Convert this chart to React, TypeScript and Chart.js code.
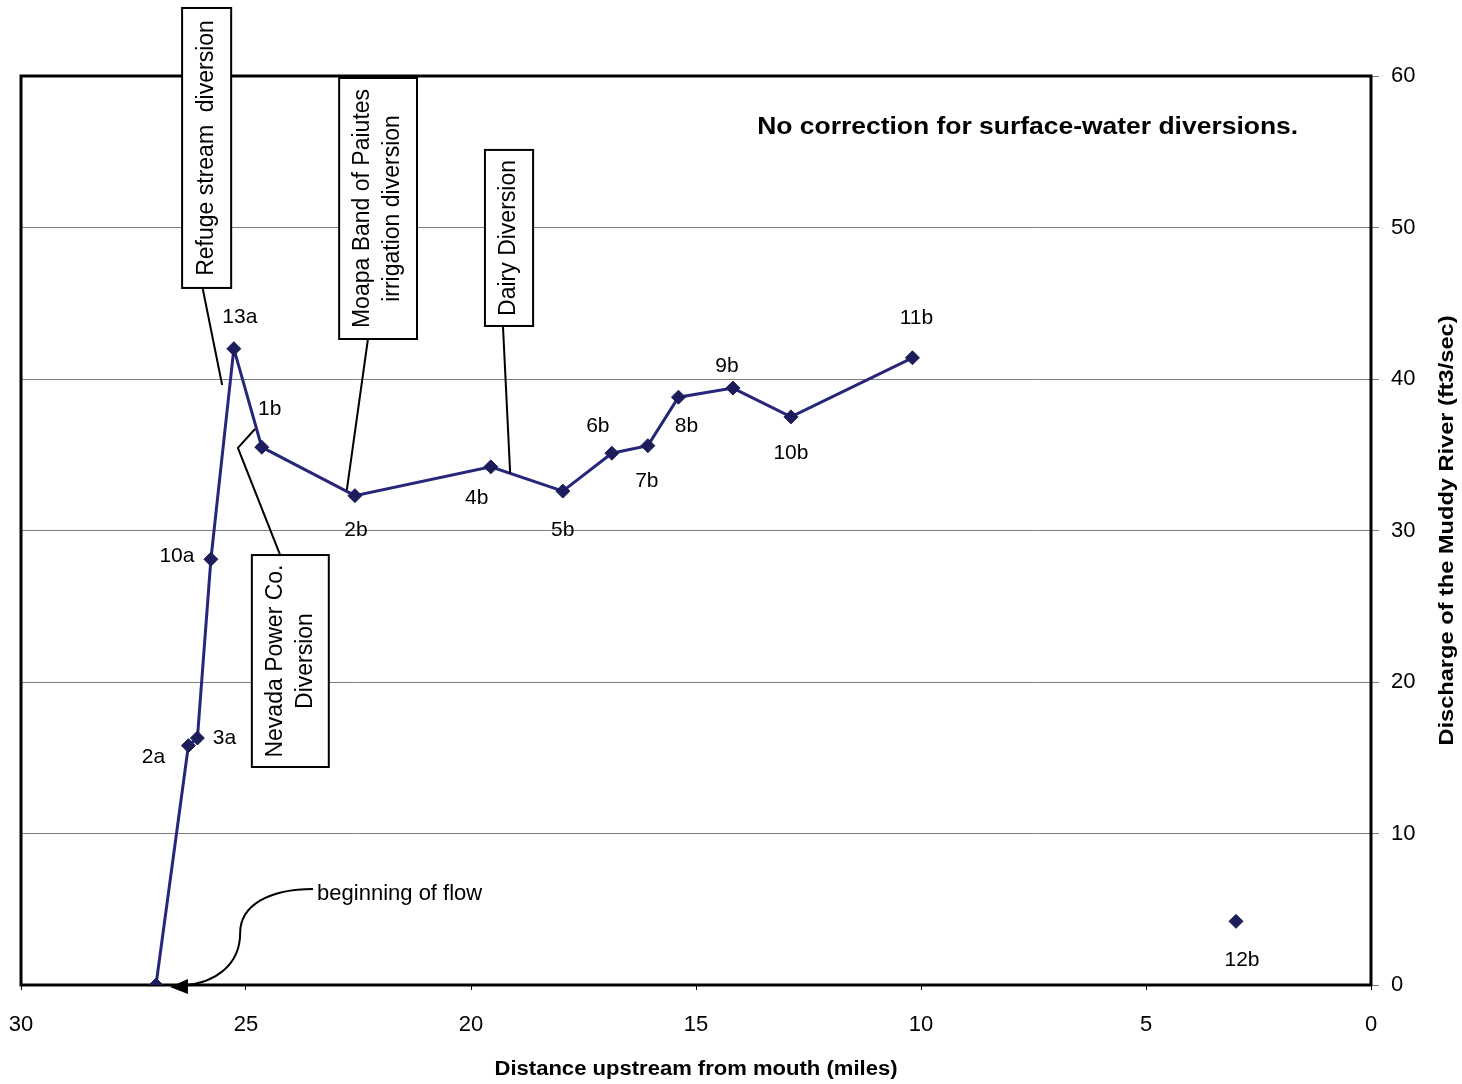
import React, { useEffect, useRef } from "react";
import { Chart, registerables } from "chart.js";

Chart.register(...registerables);

// ---- Data ----
const siteLabels = ["", "2a", "3a", "10a", "13a", "1b", "2b", "4b", "5b", "6b", "7b", "8b", "9b", "10b", "11b"];
const distanceMiles = [27.0, 26.28, 26.08, 25.78, 25.27, 24.65, 22.58, 19.56, 17.96, 16.87, 16.07, 15.39, 14.18, 12.89, 10.19];
const dischargeCfs = [0, 15.8, 16.3, 28.1, 42.0, 35.5, 32.3, 34.2, 32.6, 35.1, 35.6, 38.8, 39.4, 37.5, 41.4];

const isolatedLabels = ["12b"];
const isolatedDistance = [3.0];
const isolatedDischarge = [4.2];

const xMin = 0;
const xMax = 30;
const xStep = 5;
const yMin = 0;
const yMax = 60;
const yStep = 10;

const xTitle = "Distance upstream from mouth (miles)";
const yTitle = "Discharge of the Muddy River (ft3/sec)";
const noteText = "No correction for surface-water diversions.";
const flowText = "beginning of flow";

// label offsets in pixels (style, not data)
const mainLabelOffsets: [number, number][] = [
  [0, 0], [-35, 12], [27, 0], [-34, -3], [6, -31], [8, -38], [1, 35], [-14, 31],
  [0, 39], [-14, -27], [-1, 36], [8, 29], [-6, -22], [0, 36], [4, -40],
];
const isolatedLabelOffsets: [number, number][] = [[6, 39]];

// call-out boxes in data units
const calloutBoxes = [
  { lines: ["Refuge stream  diversion"], x: [26.42, 25.33], y: [64.49, 46.01], leader: [[25.96, 45.94], [25.53, 39.6]] },
  { lines: ["Moapa Band of Paiutes", "irrigation diversion"], x: [22.93, 21.2], y: [59.87, 42.64], leader: [[22.29, 42.64], [22.76, 32.67]] },
  { lines: ["Dairy Diversion"], x: [19.69, 18.62], y: [55.12, 43.5], leader: [[19.29, 43.5], [19.13, 33.8]] },
  { lines: ["Nevada Power Co.", "Diversion"], x: [24.87, 23.16], y: [28.38, 14.39], leader: [[24.24, 28.38], [25.18, 35.45], [24.8, 36.7]] },
];
const notePos = { x1: 13.64, x2: 1.62, y: 56.57 };
const flowTextPos = { x: 23.42, y: 6.0 };
const flowCurve = {
  start: [23.51, 6.34],
  c1: [[24.47, 6.34], [25.13, 5.28], [25.13, 3.43]],
  c2: [[25.13, 1.32], [25.69, 0.13], [26.36, 0.0]],
  head: [[26.69, -0.13], [26.29, 0.4], [26.29, -0.6]],
};

const FONT = "'Liberation Sans', Arial, Helvetica, sans-serif";
const LINE_COLOR = "#26267a";
const MARK_COLOR = "#1d1d5c";

function fitText(ctx: CanvasRenderingContext2D, text: string, font: string, width: number) {
  ctx.font = font;
  const w = ctx.measureText(text).width;
  ctx.save();
  ctx.scale(width / w, 1);
  ctx.fillText(text, 0, 0);
  ctx.restore();
}

const decorPlugin = {
  id: "decor",
  beforeDatasetsDraw(chart: any) {
    const { ctx, chartArea } = chart;
    ctx.save();
    ctx.strokeStyle = "#000";
    ctx.lineWidth = 3;
    ctx.strokeRect(chartArea.left, chartArea.top, chartArea.right - chartArea.left, chartArea.bottom - chartArea.top);
    ctx.restore();
  },
  afterDatasetsDraw(chart: any) {
    const { ctx, chartArea } = chart;
    const xs = chart.scales.x;
    const ys = chart.scales.y;
    const px = (v: number) => xs.getPixelForValue(v);
    const py = (v: number) => ys.getPixelForValue(v);

    ctx.save();
    // callout boxes
    ctx.strokeStyle = "#000";
    ctx.lineWidth = 2;
    for (const b of calloutBoxes) {
      ctx.beginPath();
      b.leader.forEach((p, i) => {
        if (i === 0) ctx.moveTo(px(p[0]), py(p[1]));
        else ctx.lineTo(px(p[0]), py(p[1]));
      });
      ctx.stroke();
      const x1 = px(b.x[0]), x2 = px(b.x[1]);
      const y1 = py(b.y[0]), y2 = py(b.y[1]);
      ctx.fillStyle = "#fff";
      ctx.fillRect(x1, y1, x2 - x1, y2 - y1);
      ctx.strokeRect(x1, y1, x2 - x1, y2 - y1);
      ctx.save();
      ctx.translate((x1 + x2) / 2, (y1 + y2) / 2);
      ctx.rotate(-Math.PI / 2);
      ctx.fillStyle = "#000";
      ctx.font = `23px ${FONT}`;
      ctx.textAlign = "center";
      ctx.textBaseline = "middle";
      const lh = 30;
      b.lines.forEach((t, i) => {
        ctx.fillText(t, 0, (i - (b.lines.length - 1) / 2) * lh);
      });
      ctx.restore();
    }

    // point labels
    ctx.fillStyle = "#000";
    ctx.font = `21px ${FONT}`;
    ctx.textAlign = "center";
    ctx.textBaseline = "middle";
    const m0 = chart.getDatasetMeta(0);
    m0.data.forEach((el: any, i: number) => {
      if (!siteLabels[i]) return;
      const o = mainLabelOffsets[i];
      ctx.fillText(siteLabels[i], el.x + o[0], el.y + o[1]);
    });
    const m1 = chart.getDatasetMeta(1);
    m1.data.forEach((el: any, i: number) => {
      const o = isolatedLabelOffsets[i];
      ctx.fillText(isolatedLabels[i], el.x + o[0], el.y + o[1]);
    });

    // note
    ctx.save();
    ctx.translate(px(notePos.x1), py(notePos.y));
    ctx.textAlign = "left";
    ctx.textBaseline = "middle";
    fitText(ctx, noteText, `bold 23px ${FONT}`, px(notePos.x2) - px(notePos.x1));
    ctx.restore();

    // beginning of flow
    ctx.font = `22px ${FONT}`;
    ctx.textAlign = "left";
    ctx.textBaseline = "middle";
    ctx.fillText(flowText, px(flowTextPos.x), py(flowTextPos.y));
    ctx.beginPath();
    ctx.lineWidth = 2;
    ctx.moveTo(px(flowCurve.start[0]), py(flowCurve.start[1]));
    ctx.bezierCurveTo(
      px(flowCurve.c1[0][0]), py(flowCurve.c1[0][1]),
      px(flowCurve.c1[1][0]), py(flowCurve.c1[1][1]),
      px(flowCurve.c1[2][0]), py(flowCurve.c1[2][1])
    );
    ctx.bezierCurveTo(
      px(flowCurve.c2[0][0]), py(flowCurve.c2[0][1]),
      px(flowCurve.c2[1][0]), py(flowCurve.c2[1][1]),
      px(flowCurve.c2[2][0]), py(flowCurve.c2[2][1])
    );
    ctx.stroke();
    ctx.beginPath();
    ctx.fillStyle = "#000";
    flowCurve.head.forEach((p, i) => {
      if (i === 0) ctx.moveTo(px(p[0]), py(p[1]));
      else ctx.lineTo(px(p[0]), py(p[1]));
    });
    ctx.closePath();
    ctx.fill();

    // axis titles
    ctx.fillStyle = "#000";
    ctx.save();
    ctx.translate((chartArea.left + chartArea.right) / 2, chartArea.bottom + 84);
    ctx.textAlign = "center";
    ctx.textBaseline = "middle";
    fitText(ctx, xTitle, `bold 20px ${FONT}`, 403);
    ctx.restore();

    ctx.save();
    ctx.translate(chartArea.right + 76, (chartArea.top + chartArea.bottom) / 2);
    ctx.rotate(-Math.PI / 2);
    ctx.textAlign = "center";
    ctx.textBaseline = "middle";
    fitText(ctx, yTitle, `bold 20px ${FONT}`, 430);
    ctx.restore();

    ctx.restore();
  },
};

export default function App() {
  const canvasRef = useRef<HTMLCanvasElement | null>(null);

  useEffect(() => {
    document.body.style.margin = "0";
    const canvas = canvasRef.current;
    if (!canvas) return;
    const mainData = distanceMiles.map((x, i) => ({ x, y: dischargeCfs[i] }));
    const isoData = isolatedDistance.map((x, i) => ({ x, y: isolatedDischarge[i] }));

    const chart = new Chart(canvas, {
      type: "scatter",
      data: {
        datasets: [
          {
            data: mainData,
            showLine: true,
            borderColor: LINE_COLOR,
            borderWidth: 3,
            tension: 0,
            pointStyle: "rectRot",
            pointRadius: 7,
            pointBackgroundColor: MARK_COLOR,
            pointBorderColor: MARK_COLOR,
            pointBorderWidth: 1,
          },
          {
            data: isoData,
            showLine: false,
            pointStyle: "rectRot",
            pointRadius: 7,
            pointBackgroundColor: MARK_COLOR,
            pointBorderColor: MARK_COLOR,
            pointBorderWidth: 1,
          },
        ],
      },
      options: {
        responsive: false,
        animation: false,
        devicePixelRatio: 1,
        layout: { padding: { left: 21, top: 76, right: 0, bottom: 0 } },
        plugins: { legend: { display: false }, tooltip: { enabled: false }, title: { display: false } },
        scales: {
          x: {
            type: "linear",
            reverse: true,
            min: xMin,
            max: xMax,
            position: "bottom",
            afterFit: (s: any) => { s.height = 99; s.paddingLeft = 0; s.paddingRight = 0; },
            ticks: {
              stepSize: xStep,
              color: "#000",
              font: { family: FONT, size: 22 },
              padding: 22,
              maxRotation: 0,
              autoSkip: false,
            },
            grid: { display: true, drawOnChartArea: false, drawTicks: true, tickLength: 5, color: "#000", lineWidth: 1 },
            border: { display: false },
          },
          y: {
            type: "linear",
            position: "right",
            min: yMin,
            max: yMax,
            afterFit: (s: any) => { s.width = 91; s.paddingTop = 0; s.paddingBottom = 0; },
            ticks: {
              stepSize: yStep,
              color: "#000",
              font: { family: FONT, size: 22 },
              padding: 12,
            },
            grid: { color: "#7d7d7d", lineWidth: 1, tickLength: 8 },
            border: { display: false },
          },
        },
      } as any,
      plugins: [decorPlugin],
    });
    return () => chart.destroy();
  }, []);

  return (
    <div style={{ width: 1462, height: 1084, position: "relative", background: "#fff" }}>
      <canvas ref={canvasRef} width={1462} height={1084} style={{ display: "block", width: 1462, height: 1084 }} />
    </div>
  );
}
